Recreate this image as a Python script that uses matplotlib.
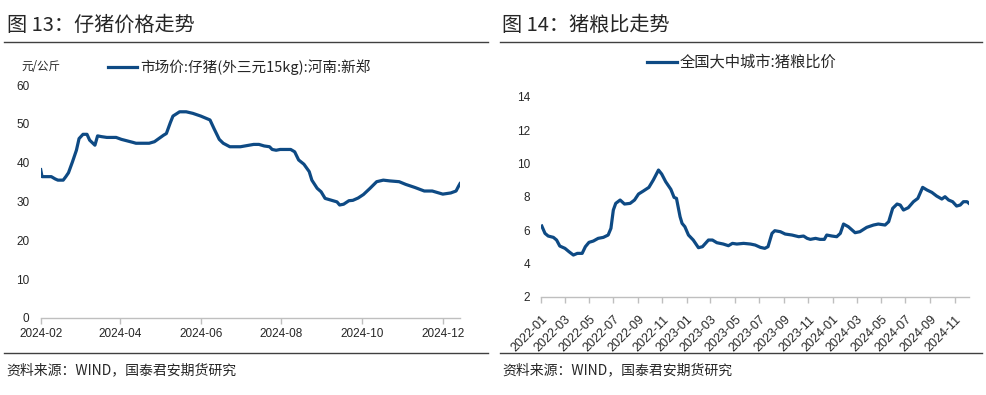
import numpy as np
import pandas as pd
import matplotlib
matplotlib.use("Agg")
import matplotlib.pyplot as plt
import matplotlib.dates as mdates
from matplotlib.lines import Line2D

plt.rcParams["font.family"] = ["Liberation Sans", "Noto Sans CJK SC", "DejaVu Sans"]

# 图13 仔猪价格 (元/公斤)
piglet_dates = [
    "2024-02-01", "2024-02-02", "2024-02-09", "2024-02-12", "2024-02-14", "2024-02-18",
    "2024-02-20", "2024-02-22", "2024-02-25", "2024-02-28", "2024-03-01", "2024-03-04",
    "2024-03-07", "2024-03-09", "2024-03-13", "2024-03-15", "2024-03-18", "2024-03-22",
    "2024-03-29", "2024-04-02", "2024-04-11", "2024-04-13", "2024-04-23", "2024-04-27",
    "2024-05-04", "2024-05-06", "2024-05-09", "2024-05-11", "2024-05-16", "2024-05-21",
    "2024-05-26", "2024-06-01", "2024-06-08", "2024-06-11", "2024-06-15", "2024-06-18",
    "2024-06-23", "2024-07-01", "2024-07-06", "2024-07-11", "2024-07-15", "2024-07-19",
    "2024-07-23", "2024-07-25", "2024-07-28", "2024-07-31", "2024-08-08", "2024-08-11",
    "2024-08-14", "2024-08-18", "2024-08-22", "2024-08-24", "2024-08-28", "2024-08-31",
    "2024-09-03", "2024-09-09", "2024-09-12", "2024-09-14", "2024-09-17", "2024-09-21",
    "2024-09-24", "2024-09-28", "2024-10-02", "2024-10-07", "2024-10-12", "2024-10-17",
    "2024-10-22", "2024-10-29", "2024-11-03", "2024-11-10", "2024-11-17", "2024-11-23",
    "2024-12-01", "2024-12-07", "2024-12-11", "2024-12-13", "2024-12-14",
]
piglet_price = [
    38.2, 36.4, 36.4, 35.8, 35.5, 35.5,
    36.4, 37.4, 40.2, 43.2, 46.2, 47.3,
    47.3, 45.8, 44.5, 46.9, 46.7, 46.5,
    46.5, 46.0, 45.2, 45.0, 45.0, 45.4,
    47.1, 47.5, 50.3, 52.0, 53.1, 53.1,
    52.7, 52.0, 51.0, 48.8, 46.0, 45.0,
    44.1, 44.1, 44.4, 44.7, 44.7, 44.3,
    44.1, 43.4, 43.2, 43.4, 43.4, 42.8,
    40.7, 39.6, 37.7, 35.5, 33.4, 32.5,
    30.8, 30.2, 29.9, 29.1, 29.3, 30.2,
    30.3, 30.9, 31.8, 33.4, 35.1, 35.5,
    35.3, 35.1, 34.4, 33.6, 32.7, 32.7,
    31.9, 32.2, 32.7, 34.0, 34.6,
]

# 图14 全国大中城市 猪粮比价
ratio_dates = [
    "2022-01-03", "2022-01-11", "2022-01-19", "2022-02-01", "2022-02-09", "2022-02-17",
    "2022-03-02", "2022-03-12", "2022-03-23", "2022-04-02", "2022-04-14", "2022-04-22",
    "2022-05-01", "2022-05-12", "2022-05-24", "2022-06-06", "2022-06-18", "2022-06-25",
    "2022-07-01", "2022-07-07", "2022-07-18", "2022-07-29", "2022-08-12", "2022-08-23",
    "2022-09-02", "2022-09-14", "2022-09-28", "2022-10-09", "2022-10-22", "2022-10-30",
    "2022-11-09", "2022-11-22", "2022-11-30", "2022-12-06", "2022-12-15", "2022-12-20",
    "2022-12-27", "2023-01-05", "2023-01-17", "2023-01-30", "2023-02-09", "2023-02-24",
    "2023-03-06", "2023-03-17", "2023-04-02", "2023-04-15", "2023-04-25", "2023-05-06",
    "2023-05-23", "2023-06-09", "2023-06-21", "2023-07-04", "2023-07-15", "2023-07-23",
    "2023-08-02", "2023-08-09", "2023-08-23", "2023-09-04", "2023-09-21", "2023-10-08",
    "2023-10-20", "2023-10-29", "2023-11-06", "2023-11-19", "2023-11-30", "2023-12-11",
    "2023-12-17", "2023-12-30", "2024-01-11", "2024-01-20", "2024-01-28", "2024-02-09",
    "2024-02-26", "2024-03-09", "2024-03-26", "2024-04-12", "2024-04-24", "2024-05-11",
    "2024-05-20", "2024-05-30", "2024-06-10", "2024-06-18", "2024-06-26", "2024-07-08",
    "2024-07-21", "2024-08-01", "2024-08-13", "2024-08-24", "2024-09-05", "2024-09-17",
    "2024-09-30", "2024-10-08", "2024-10-17", "2024-10-27", "2024-11-06", "2024-11-15",
    "2024-11-23", "2024-12-02", "2024-12-07",
]
ratio_value = [
    6.24, 5.80, 5.64, 5.56, 5.40, 5.04,
    4.90, 4.70, 4.50, 4.60, 4.60, 5.00,
    5.26, 5.34, 5.50, 5.56, 5.70, 6.10,
    7.20, 7.60, 7.80, 7.56, 7.60, 7.80,
    8.16, 8.34, 8.56, 9.00, 9.60, 9.36,
    8.90, 8.44, 7.96, 7.90, 6.80, 6.40,
    6.20, 5.70, 5.40, 4.94, 5.00, 5.40,
    5.40, 5.24, 5.16, 5.06, 5.20, 5.16,
    5.20, 5.16, 5.10, 4.96, 4.90, 5.00,
    5.80, 5.96, 5.90, 5.76, 5.70, 5.60,
    5.64, 5.50, 5.44, 5.50, 5.44, 5.44,
    5.70, 5.64, 5.60, 5.80, 6.36, 6.20,
    5.84, 5.90, 6.16, 6.30, 6.36, 6.30,
    6.50, 7.30, 7.56, 7.50, 7.20, 7.34,
    7.70, 7.90, 8.56, 8.40, 8.26, 8.04,
    7.86, 8.00, 7.80, 7.70, 7.44, 7.50,
    7.70, 7.70, 7.60,
]

LINE_C = "#0e4a84"
AXIS_C = "#bfbfbf"
TEXT_C = "#262626"
CJK = ["Noto Sans CJK SC", "DejaVu Sans"]

W, H = 987, 395
fig = plt.figure(figsize=(W / 100, H / 100), dpi=100)


def fx(px):
    return px / W


def fy(py):
    return 1 - py / H


def style_axes(ax):
    for s in ["top", "right", "left"]:
        ax.spines[s].set_visible(False)
    ax.spines["bottom"].set_color(AXIS_C)
    ax.spines["bottom"].set_linewidth(1.0)
    ax.tick_params(axis="y", length=0, pad=8, labelsize=8.5, labelcolor=TEXT_C)
    ax.tick_params(axis="x", length=4, width=1, color=AXIS_C, labelsize=8.5,
                   labelcolor=TEXT_C)


# ---- left panel
d1 = pd.to_datetime(piglet_dates)
ax1 = fig.add_axes([fx(40.7), fy(318), fx(460) - fx(40.7), fy(85) - fy(318)])
ax1.plot(d1, piglet_price, color=LINE_C, lw=2.3, solid_joinstyle="round")
ax1.set_ylim(0, 60)
ax1.set_yticks(np.arange(0, 61, 10))
ax1.set_xlim(d1[0], d1[-1])
ax1.xaxis.set_major_locator(mdates.MonthLocator(bymonth=[2, 4, 6, 8, 10, 12]))
ax1.xaxis.set_major_formatter(mdates.DateFormatter("%Y-%m"))
style_axes(ax1)
ax1.tick_params(axis="x", pad=3)

fig.text(fx(21), fy(67), "元/公斤", fontsize=8.3, family=CJK, color=TEXT_C,
         va="center", ha="left")
fig.add_artist(Line2D([fx(108), fx(137)], [fy(67), fy(67)], color=LINE_C, lw=2.3))
fig.text(fx(140), fy(67), "市场价:仔猪(外三元15kg):河南:新郑", fontsize=10.5,
         family=CJK, color=TEXT_C, va="center", ha="left")

# ---- right panel
d2 = pd.to_datetime(ratio_dates)
ax2 = fig.add_axes([fx(541), fy(296.7), fx(969) - fx(541), fy(96.7) - fy(296.7)])
ax2.plot(d2, ratio_value, color=LINE_C, lw=2.3, solid_joinstyle="round")
ax2.set_ylim(2, 14)
ax2.set_yticks(np.arange(2, 15, 2))
ax2.set_xlim(pd.Timestamp("2022-01-01"), d2[-1])
ax2.xaxis.set_major_locator(mdates.MonthLocator(bymonth=[1, 3, 5, 7, 9, 11]))
ax2.xaxis.set_major_formatter(mdates.DateFormatter("%Y-%m"))
style_axes(ax2)
ax2.tick_params(axis="x", labelsize=9, pad=8)
for lab in ax2.get_xticklabels():
    lab.set_rotation(45)
    lab.set_ha("right")
    lab.set_va("top")
    lab.set_rotation_mode("anchor")

fig.add_artist(Line2D([fx(647), fx(677)], [fy(62), fy(62)], color=LINE_C, lw=2.3))
fig.text(fx(680), fy(62), "全国大中城市:猪粮比价", fontsize=11, family=CJK,
         color=TEXT_C, va="center", ha="left")

# ---- titles, rules, sources
fig.text(fx(7), fy(25), "图 13：仔猪价格走势", fontsize=14.5, family=CJK,
         color=TEXT_C, va="center", ha="left")
fig.text(fx(502), fy(25), "图 14：猪粮比走势", fontsize=14.5, family=CJK,
         color=TEXT_C, va="center", ha="left")
for x0, x1 in [(4, 488), (500, 982)]:
    fig.add_artist(Line2D([fx(x0), fx(x1)], [fy(41.5), fy(41.5)], color="#404040", lw=1.0))
    fig.add_artist(Line2D([fx(x0), fx(x1)], [fy(353), fy(353)], color="#404040", lw=1.0))
fig.text(fx(6), fy(370), "资料来源：WIND，国泰君安期货研究", fontsize=10, family=CJK,
         color=TEXT_C, va="center", ha="left")
fig.text(fx(502), fy(370), "资料来源：WIND，国泰君安期货研究", fontsize=10, family=CJK,
         color=TEXT_C, va="center", ha="left")

fig.savefig("out.png", dpi=100)
